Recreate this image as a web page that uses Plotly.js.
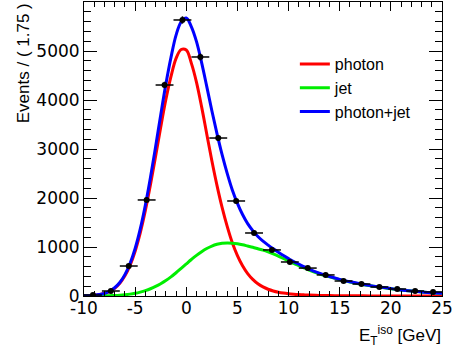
<!DOCTYPE html>
<html>
<head>
<meta charset="utf-8">
<script src="https://cdn.plot.ly/plotly-3.0.1.min.js"></script>
<style>html,body{margin:0;padding:0;background:#fff;}#chart{width:454px;height:351px;}</style>
</head>
<body>
<div id="chart"></div>
<script>
// Curve sampling positions (GeV)
var curveX = [-10,-9.5,-9,-8.5,-8,-7.5,-7,-6.5,-6,-5.5,-5,-4.5,-4,-3.5,-3,-2.5,-2,-1.5,-1,-0.5,0,0.5,1,1.5,2,2.5,3,3.5,4,4.5,5,5.5,6,6.5,7,7.5,8,8.5,9,9.5,10,10.5,11,11.5,12,13,14,15,16,17,18,19,20,21,22,23,24,25];
// photon component
var photonY = [4,7,15,28,52,92,158,260,411,625,914,1288,1745,2274,2853,3446,4004,4475,4850,5030,5020,4747,4360,3859,3308,2760,2258,1809,1421,1087,826,618,458,340,250,185,138,103,78,60,47,37,29,23,18,12,8,5,4,3,2,1,1,1,1,1,1,1];
// jet component
var jetY = [0,0,1,2,3,6,10,16,25,38,56,80,110,148,195,250,315,390,475,565,655,745,830,905,970,1020,1055,1075,1082,1078,1065,1045,1020,995,965,935,900,860,815,765,715,665,620,575,530,455,390,335,285,245,210,180,150,122,100,82,66,54];
// photon+jet total
var totalY = [4,7,16,30,55,98,168,276,436,663,970,1368,1855,2422,3048,3696,4319,4865,5325,5595,5675,5492,5190,4764,4278,3780,3313,2884,2503,2165,1891,1663,1478,1335,1215,1120,1038,963,893,825,762,702,649,598,548,467,398,340,289,248,212,181,151,123,101,83,67,55];

// Histogram data (bin width 1.75)
var binCenters = [-9.125,-7.375,-5.625,-3.875,-2.125,-0.375,1.375,3.125,4.875,6.625,8.375,10.125,11.875,13.625,15.375,17.125,18.875,20.625,22.375,24.125];
var counts = [20,102,612,1960,4306,5633,4878,3224,1939,1286,940,694,570,430,306,245,184,143,102,82];
var countErr = [4.5,10,25,44,66,75,70,57,44,36,31,26,24,21,17,16,14,12,10,9];
var binHalfWidth = 0.875;

var legendNames = ['photon','jet','photon+jet'];
var xTickVals = [-10,-5,0,5,10,15,20,25];
var xTickText = ['-10','-5','0','5','10','15','20','25'];
var yTickVals = [0,1000,2000,3000,4000,5000];
var yTickText = ['0','1000','2000','3000','4000','5000'];

var FONT = 'Liberation Sans, Arial, Helvetica, sans-serif';
var TICKFONT = 'DejaVu Sans, Liberation Sans, sans-serif';

var traces = [
  {x: curveX, y: photonY, mode: 'lines', name: legendNames[0], line: {color: '#ff0000', width: 3, shape: 'spline'}},
  {x: curveX, y: jetY, mode: 'lines', name: legendNames[1], line: {color: '#00ee00', width: 3, shape: 'spline'}},
  {x: curveX, y: totalY, mode: 'lines', name: legendNames[2], line: {color: '#0000ff', width: 3, shape: 'spline'}},
  {x: binCenters, y: counts, mode: 'markers', showlegend: false,
   marker: {color: '#000', size: 6},
   error_x: {type: 'constant', value: binHalfWidth, color: '#000', thickness: 1.5, width: 0},
   error_y: {type: 'data', array: countErr, color: '#000', thickness: 1.5, width: 0}}
];

var axisCommon = {
  showline: true, linecolor: '#000', linewidth: 1, mirror: 'ticks',
  ticks: 'inside', tickcolor: '#000', showgrid: false, zeroline: false,
  tickfont: {family: TICKFONT, size: 17, color: '#000'}, tickmode: 'array'
};

var layout = {
  width: 454, height: 351,
  margin: {l: 84, r: 12, t: 2, b: 55},
  paper_bgcolor: '#fff', plot_bgcolor: '#fff',
  font: {family: FONT, color: '#000'},
  xaxis: Object.assign({}, axisCommon, {
    range: [-10, 25], tickvals: xTickVals, ticktext: xTickText, ticklen: 9, tickwidth: 1,
    ticklabelstandoff: -3,
    minor: {dtick: 1, ticklen: 5, tickcolor: '#000', ticks: 'inside', showgrid: false}
  }),
  yaxis: Object.assign({}, axisCommon, {
    range: [0, 6000], tickvals: yTickVals, ticktext: yTickText, ticklen: 13, tickwidth: 1,
    minor: {dtick: 200, ticklen: 7, tickcolor: '#000', ticks: 'inside', showgrid: false}
  }),
  showlegend: true,
  legend: {x: 0.589, y: 0.847, xanchor: 'left', yanchor: 'top', bgcolor: 'rgba(0,0,0,0)',
           font: {family: FONT, size: 16, color: '#000'}, tracegroupgap: 0},
  annotations: [
    {text: 'Events / ( 1.75 )', textangle: -90, xref: 'paper', yref: 'paper',
     x: -0.17, y: 1.003, xanchor: 'center', yanchor: 'top', showarrow: false,
     font: {family: FONT, size: 17, color: '#000'}},
    {text: 'E<sub>T</sub><sup>iso</sup> [GeV]', xref: 'paper', yref: 'paper',
     x: 1.003, y: -0.133, xanchor: 'right', yanchor: 'middle', showarrow: false,
     font: {family: FONT, size: 17, color: '#000'}}
  ]
};

Plotly.newPlot('chart', traces, layout, {displayModeBar: false, staticPlot: true});
</script>
</body>
</html>
